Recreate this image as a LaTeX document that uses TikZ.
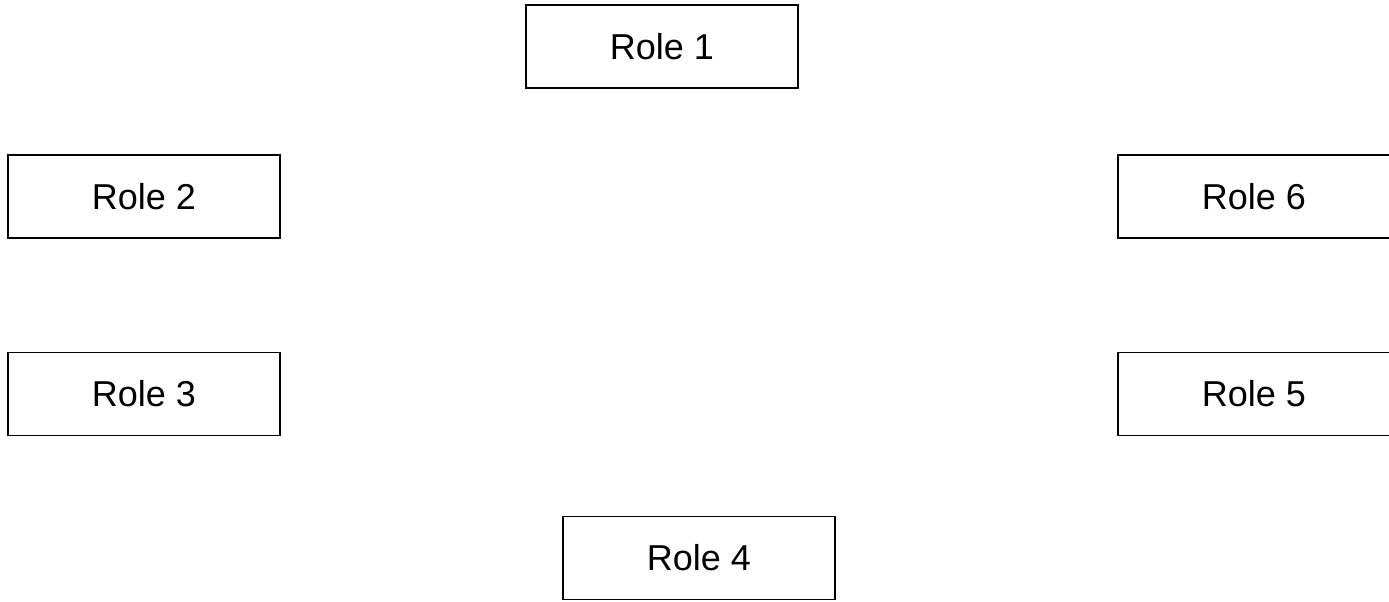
\documentclass[tikz,border=0pt]{standalone}
\usepackage{fontspec}
\setmainfont{Liberation Sans}
\usepackage{tikz}
\usetikzlibrary{positioning}
\tikzset{
  role/.style={rectangle, draw=black, fill=white, line width=0.6pt,
    minimum width=136pt, minimum height=41.5pt, inner sep=0pt,
    font=\fontsize{18pt}{21pt}\selectfont},
  rolemap/.style={x=0.5pt, y=-0.5pt}
}
\begin{document}
\begin{tikzpicture}[rolemap]
  \useasboundingbox (0,0) rectangle (1389,601);
  \node[role] (r1) at (662,46.5) {Role 1};
  \node[role] (r2) at (144,196.5) {Role 2};
  \node[role] (r3) at (144,394) {Role 3};
  \node[role] (r4) at (699,558) {Role 4};
  \node[role] (r5) at (1254,394) {Role 5};
  \node[role] (r6) at (1254,196.5) {Role 6};
\end{tikzpicture}
\end{document}
